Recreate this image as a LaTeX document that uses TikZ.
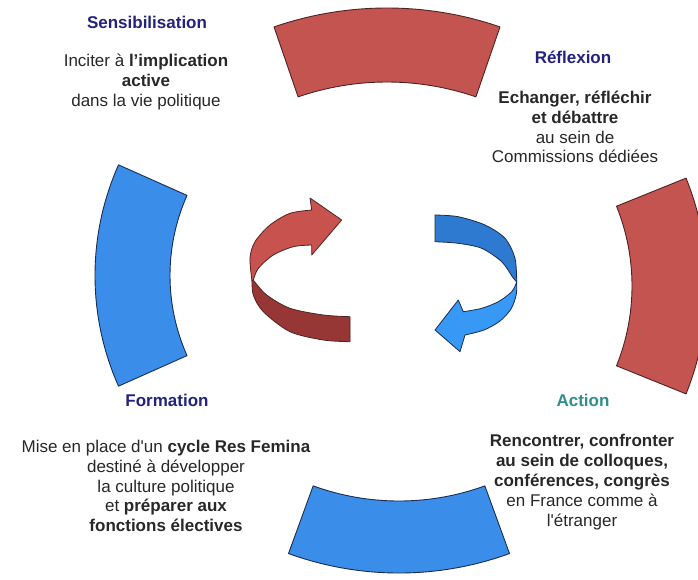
\documentclass[tikz,border=0pt]{standalone}
\usepackage{fontspec}
\setmainfont{Liberation Sans}
\usetikzlibrary{calc}
\definecolor{segred}{RGB}{196,84,80}
\definecolor{segblue}{RGB}{58,142,234}
\definecolor{redline}{RGB}{80,35,35}
\definecolor{blueline}{RGB}{25,45,80}
\definecolor{arrowredlight}{RGB}{200,82,78}
\definecolor{arrowreddark}{RGB}{150,55,53}
\definecolor{arrowbluedark}{RGB}{45,122,208}
\definecolor{arrowbluelight}{RGB}{55,152,245}
\definecolor{titleblue}{RGB}{35,35,125}
\definecolor{titleteal}{RGB}{49,140,140}
\definecolor{bodytext}{RGB}{40,40,40}
\begin{document}
\begin{tikzpicture}[x=1pt,y=-1pt,
  redseg/.style={fill=segred, draw=redline, line width=0.9pt, line join=round},
  blueseg/.style={fill=segblue, draw=blueline, line width=0.9pt, line join=round},
  redlight/.style={fill=arrowredlight, draw=redline, line width=0.8pt, line join=round},
  reddark/.style={fill=arrowreddark, draw=redline, line width=0.8pt, line join=round},
  bluedark/.style={fill=arrowbluedark, draw=blueline, line width=0.8pt, line join=round},
  bluelight/.style={fill=arrowbluelight, draw=blueline, line width=0.8pt, line join=round},
  titletext/.style={font=\fontsize{17}{20}\selectfont\bfseries, text=titleblue, inner sep=0pt},
  bodytxt/.style={font=\fontsize{17}{19.8}\selectfont, text=bodytext, align=center, inner sep=0pt}]
\useasboundingbox (0,0) rectangle (698,579);
\fill[white] (0,0) rectangle (698,579);
\clip (0,0) rectangle (698,579);

% ring segments
\coordinate (ctop) at (387,355);
\coordinate (cbot) at (399,250);
\coordinate (cleft) at (367,275.5);
\coordinate (cright) at (419,286);

\filldraw[redseg] ($(ctop)+(-109:347)$) arc[start angle=-109, end angle=-71, radius=347]
  -- ($(ctop)+(-71:273)$) arc[start angle=-71, end angle=-109, radius=273] -- cycle;
\filldraw[blueseg] ($(cbot)+(70:323)$) arc[start angle=70, end angle=110, radius=323]
  -- ($(cbot)+(110:251)$) arc[start angle=110, end angle=70, radius=251] -- cycle;
\filldraw[blueseg] ($(cleft)+(156:272)$) arc[start angle=156, end angle=204, radius=272]
  -- ($(cleft)+(204:197)$) arc[start angle=204, end angle=156, radius=197] -- cycle;
\filldraw[redseg] ($(cright)+(-22:288)$) arc[start angle=-22, end angle=22, radius=288]
  -- ($(cright)+(22:213)$) arc[start angle=22, end angle=-22, radius=213] -- cycle;

% central red arrow
\filldraw[reddark] plot[smooth] coordinates {(252,280) (253.3,295) (263.3,311.7) (290,331.7) (323.3,340) (350,341.7)}
  -- (350,316.7) -- plot[smooth] coordinates {(350,316.7) (323.3,315) (290,308.3) (266.7,295) (254,281)} -- cycle;
\filldraw[redlight] plot[smooth] coordinates {(252,281) (250,258) (255,241.7) (270,225) (290,213.3) (311.7,210)}
  -- (310,198) -- (341.7,220) -- (311.7,255) -- (311.7,245)
  -- plot[smooth] coordinates {(311.7,245) (293.3,246.7) (273.3,255) (258.3,268.3) (253,281)} -- cycle;

% central blue arrow
\filldraw[bluedark] plot[smooth] coordinates {(435,215) (458.3,216.7) (485,225) (505,238.3) (515,258.3) (516.7,282)}
  -- plot[smooth] coordinates {(516.7,282) (512.3,276.7) (501.7,261.7) (481.7,248.3) (458.3,243.3) (435,241.7)} -- cycle;
\filldraw[bluelight] plot[smooth] coordinates {(516.7,282) (516.2,295) (511,309) (500,321) (484,330) (465,335)}
  -- (460,351.7) -- (435,330) -- (458.3,300) -- (463.3,311.7)
  -- plot[smooth] coordinates {(463.3,311.7) (481.7,308.3) (498.3,301.7) (511.7,291.7) (516.7,282)} -- cycle;

% texts
\node[titletext] (t1) at (147,22) {Sensibilisation};
\node[bodytxt] (b1) at (146,82) {Inciter à \textbf{l’implication}\\\textbf{active}\\dans la vie politique};

\node[titletext] (t2) at (573,57) {Réflexion};
\node[bodytxt] (b2) at (575,127) {\textbf{Echanger, réfléchir}\\\textbf{et débattre}\\au sein de\\Commissions dédiées};

\node[titletext] (t3) at (167,400) {Formation};
\node[bodytxt] (b3) at (166,486) {Mise en place d\textquotesingle un \textbf{cycle Res Femina}\\destiné à développer\\la culture politique\\et \textbf{préparer aux}\\\textbf{fonctions électives}};

\node[titletext, text=titleteal] (t4) at (583,400) {Action};
\node[bodytxt] (b4) at (582,482) {\textbf{Rencontrer, confronter}\\\textbf{au sein de colloques,}\\\textbf{conférences, congrès}\\en France comme à\\l\textquotesingle étranger};
\end{tikzpicture}
\end{document}
